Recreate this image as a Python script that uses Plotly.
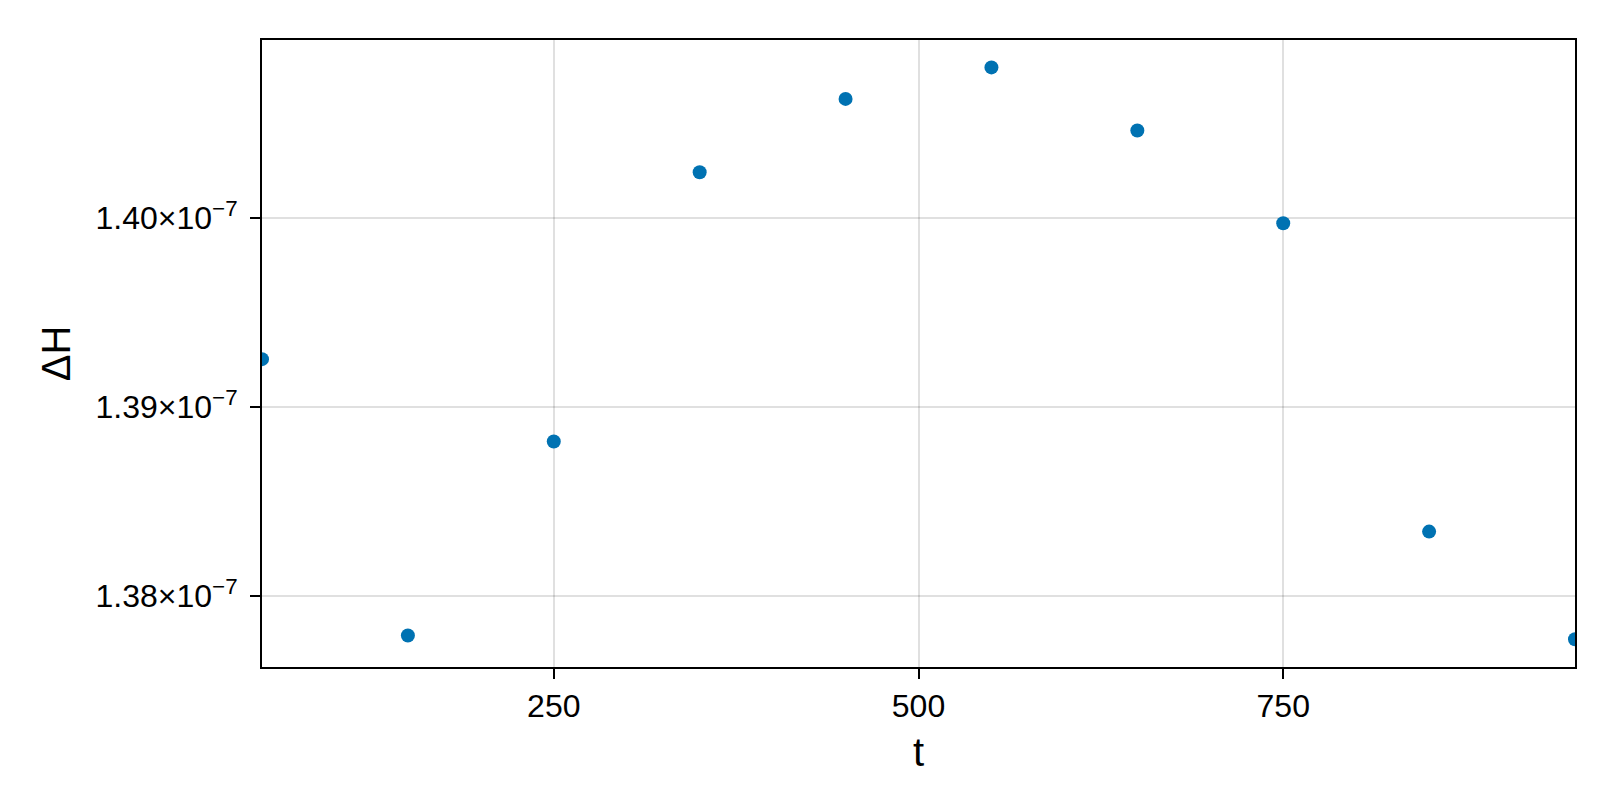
import plotly.graph_objects as go

t = [50, 150, 250, 350, 450, 550, 650, 750, 850, 950]
dH = [1.39253e-7, 1.37790e-7, 1.38817e-7, 1.40243e-7, 1.40631e-7,
      1.40798e-7, 1.40464e-7, 1.39973e-7, 1.38340e-7, 1.37770e-7]

x_ticks = [250, 500, 750]
x_ticktext = ["250", "500", "750"]
y_ticks = [1.38e-7, 1.39e-7, 1.40e-7]
y_ticktext = ["1.38×10<sup>−7</sup>", "1.39×10<sup>−7</sup>", "1.40×10<sup>−7</sup>"]

fig = go.Figure()
fig.add_trace(go.Scatter(
    x=t, y=dH, mode="markers",
    marker=dict(color="#0072B2", size=14, line=dict(width=0)),
    cliponaxis=True, showlegend=False,
))

font_family = "Liberation Sans, Arial, sans-serif"
axis_common = dict(
    showline=True, linecolor="black", linewidth=2, mirror=True,
    showgrid=True, gridcolor="rgba(0,0,0,0.12)", gridwidth=2,
    ticks="outside", ticklen=10, tickwidth=2, tickcolor="black",
    tickfont=dict(family=font_family, size=32, color="black"),
    zeroline=False,
)

fig.update_layout(
    width=1600, height=800,
    paper_bgcolor="white", plot_bgcolor="white",
    margin=dict(l=254, r=33, t=32, b=141),
    xaxis=dict(
        range=[50, 950], tickvals=x_ticks, ticktext=x_ticktext,
        title=dict(text="t", font=dict(family=font_family, size=40, color="black"), standoff=15),
        **axis_common,
    ),
    yaxis=dict(
        range=[1.37623e-7, 1.40943e-7], tickvals=y_ticks, ticktext=y_ticktext,
        title=dict(text="ΔH", font=dict(family=font_family, size=40, color="black"), standoff=13),
        ticklabelstandoff=6,
        **axis_common,
    ),
)

fig.write_html("out.html")
